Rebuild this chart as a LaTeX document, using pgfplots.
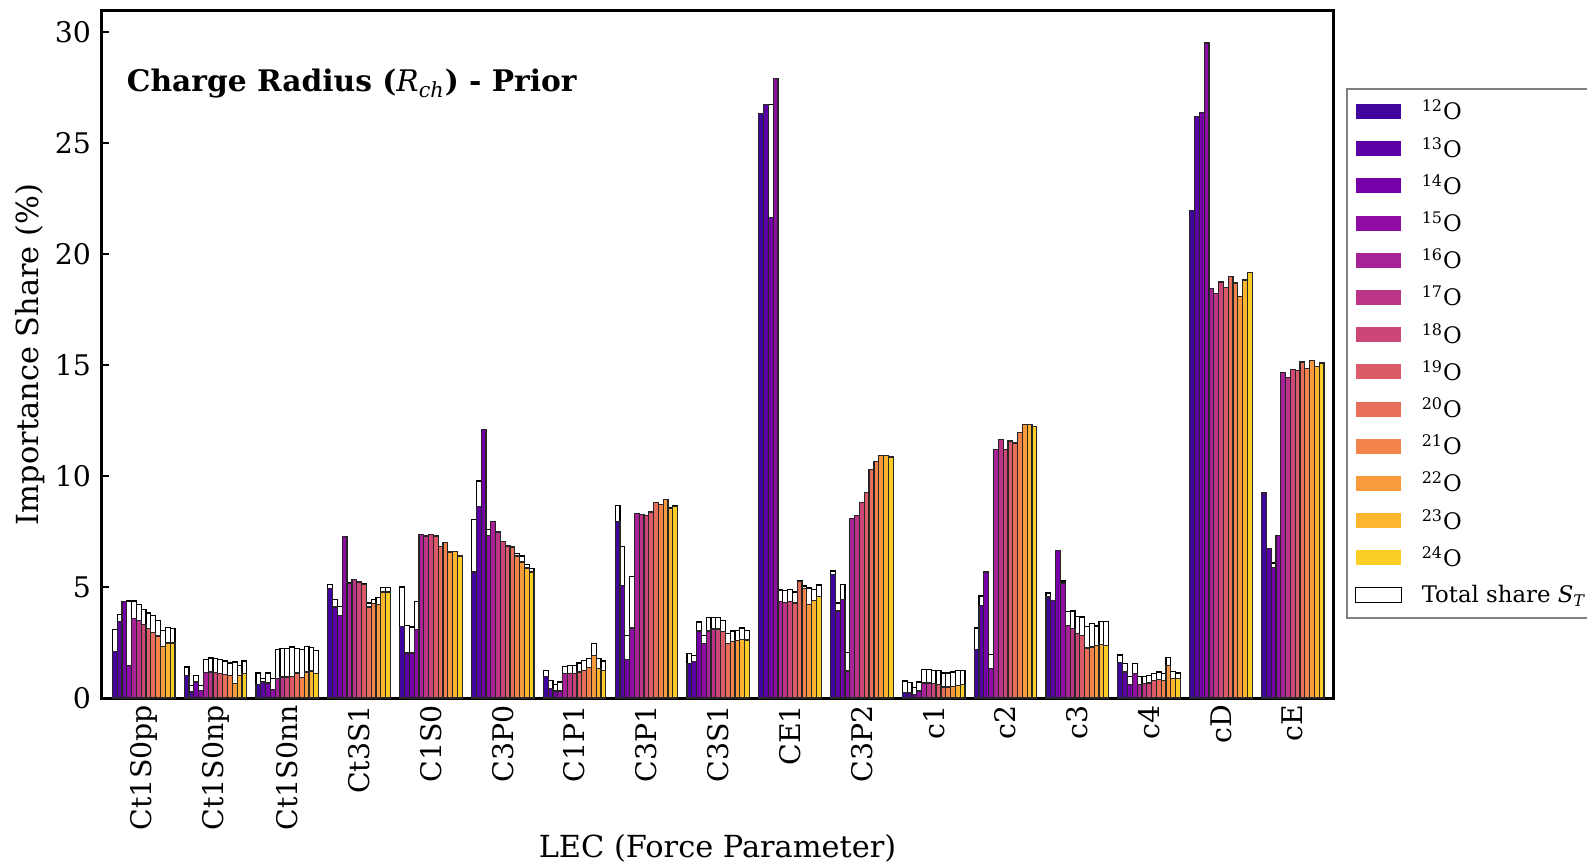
\documentclass[border=0pt]{standalone}
\usepackage{pgfplots}
\pgfplotsset{compat=1.18}
\usepackage{pgfplotstable}
\usepackage{fontspec}
\setmainfont{DejaVu Serif}
\usetikzlibrary{calc}

% plasma colormap, 13 samples between 0.1 and 0.9
\definecolor{p0}{HTML}{41049D}
\definecolor{p1}{HTML}{5C01A6}
\definecolor{p2}{HTML}{7701A8}
\definecolor{p3}{HTML}{8F0DA4}
\definecolor{p4}{HTML}{A72197}
\definecolor{p5}{HTML}{BB3488}
\definecolor{p6}{HTML}{CC4778}
\definecolor{p7}{HTML}{DB5C68}
\definecolor{p8}{HTML}{E76F5A}
\definecolor{p9}{HTML}{F2844B}
\definecolor{p10}{HTML}{F99B3D}
\definecolor{p11}{HTML}{FDB42F}
\definecolor{p12}{HTML}{FCCE25}

% first-order share (coloured bars), one column per isotope 12O..24O
\pgfplotstableread{
g c0 c1 c2 c3 c4 c5 c6 c7 c8 c9 c10 c11 c12
0  2.10 3.46 4.33 1.47 3.58 3.50 3.32 3.13 2.95 2.79 2.33 2.48 2.48
1  1.02 0.27 0.72 0.35 1.14 1.17 1.14 1.10 1.07 1.02 0.65 1.02 1.10
2  0.60 0.72 0.68 0.38 0.87 0.95 0.95 0.98 1.13 0.92 1.17 1.22 1.10
3  4.93 4.10 3.73 7.29 5.16 5.35 5.23 5.12 4.10 4.25 4.22 4.78 4.78
4  3.23 2.03 2.03 3.08 7.38 7.30 7.38 7.30 6.84 6.99 6.58 6.61 6.40
5  5.68 8.64 12.11 7.33 7.96 7.48 7.06 6.85 6.80 6.40 6.13 5.86 5.68
6  0.98 0.42 0.32 0.32 1.10 1.10 1.10 1.17 1.25 1.37 1.93 1.32 1.25
7  7.96 5.08 1.73 3.15 8.31 8.28 8.23 8.38 8.79 8.73 8.95 8.53 8.61
8  1.54 1.63 3.02 2.46 3.02 3.11 3.11 2.98 2.46 2.55 2.59 2.65 2.61
9  26.34 26.74 21.65 27.91 4.35 4.31 4.35 4.28 5.24 4.95 4.22 4.40 4.59
10 5.57 3.92 4.43 1.22 8.08 8.23 8.80 9.25 10.30 10.64 10.91 10.91 10.86
11 0.24 0.23 0.17 0.32 0.68 0.68 0.65 0.62 0.50 0.50 0.53 0.57 0.60
12 2.18 4.18 5.68 1.32 11.21 11.66 11.21 11.58 11.49 11.96 12.33 12.33 12.24
13 4.55 4.40 6.65 5.18 3.27 3.12 2.90 2.82 2.25 2.30 2.37 2.40 2.37
14 1.59 1.17 0.62 1.11 0.62 0.64 0.68 0.78 0.82 0.78 1.46 0.87 0.87
15 21.98 26.21 26.37 29.51 18.45 18.21 18.74 18.50 18.99 18.70 18.10 18.83 19.17
16 9.24 6.72 5.89 7.32 14.66 14.45 14.80 14.77 15.14 14.85 15.22 14.93 15.09
}\firsttab

% total share S_T (white bars)
\pgfplotstableread{
g c0 c1 c2 c3 c4 c5 c6 c7 c8 c9 c10 c11 c12
0  3.08 3.76 4.33 4.37 4.37 4.21 4.00 3.83 3.70 3.50 3.05 3.17 3.13
1  1.40 0.57 1.02 0.57 1.73 1.80 1.77 1.73 1.67 1.58 1.62 1.47 1.67
2  1.13 0.87 1.13 0.87 2.18 2.23 2.23 2.30 2.23 2.18 2.33 2.27 2.15
3  5.11 4.43 4.13 7.29 5.20 5.35 5.25 5.16 4.28 4.43 4.52 4.97 4.97
4  5.00 3.28 3.20 4.33 7.38 7.30 7.38 7.30 6.84 6.99 6.58 6.61 6.40
5  8.05 9.78 12.11 7.59 7.96 7.48 7.06 6.85 6.80 6.51 6.40 6.01 5.83
6  1.25 0.80 0.62 0.72 1.43 1.47 1.47 1.58 1.70 1.77 2.45 1.77 1.67
7  8.67 6.84 2.83 5.48 8.31 8.28 8.23 8.38 8.79 8.73 8.95 8.60 8.67
8  2.00 1.91 3.42 2.83 3.61 3.63 3.63 3.48 2.92 3.02 3.05 3.15 3.05
9  26.34 26.74 26.74 27.91 4.87 4.83 4.90 4.78 5.27 5.05 4.96 4.90 5.09
10 5.72 4.28 5.11 2.04 8.08 8.23 8.80 9.25 10.30 10.64 10.91 10.91 10.86
11 0.77 0.69 0.47 0.72 1.28 1.28 1.25 1.25 1.13 1.13 1.17 1.25 1.25
12 3.15 4.60 5.68 1.97 11.21 11.66 11.21 11.58 11.49 11.96 12.33 12.33 12.24
13 4.73 4.40 6.65 5.27 3.91 3.92 3.68 3.65 3.23 3.35 3.24 3.46 3.46
14 1.94 1.55 0.97 1.55 0.97 0.97 1.03 1.11 1.17 1.11 1.84 1.20 1.13
15 21.98 26.21 26.37 29.51 18.45 18.21 18.74 18.50 18.99 18.70 18.10 18.83 19.17
16 9.24 6.72 6.08 7.32 14.66 14.45 14.80 14.77 15.14 14.85 15.22 14.93 15.09
}\totaltab

\begin{document}
\begin{tikzpicture}
\begin{axis}[
  name=ax,
  scale only axis,
  width=615.5pt, height=343.5pt,
  xmin=-0.58, xmax=16.56,
  ymin=0, ymax=30.95,
  axis line style={line width=1.5pt},
  xtick={0,...,16},
  xticklabels={Ct1S0pp,Ct1S0np,Ct1S0nn,Ct3S1,C1S0,C3P0,C1P1,C3P1,C3S1,CE1,C3P2,c1,c2,c3,c4,cD,cE},
  x tick label style={rotate=90, anchor=east, font=\fontsize{14.2}{16}\selectfont},
  xtick style={draw=none},
  ytick={0,5,...,30},
  y tick label style={font=\fontsize{14.2}{16}\selectfont, xshift=-2pt},
  ytick style={line width=0.8pt, black},
  major tick length=3.5pt,
  tick align=inside,
  tick pos=left,
  /pgf/number format/assume math mode=true,
  legend image code/.code={\path[#1] (0pt,-3.75pt) rectangle (22.75pt,3.75pt);},
  legend cell align=left,
  legend style={at={(1.0106,0.888)}, anchor=north west, draw=gray, line width=1pt,
    fill=white, inner xsep=4pt, inner ysep=2pt, row sep=0pt,
    font=\fontsize{11.4}{13}\selectfont,
    nodes={inner sep=0pt, minimum height=18.6pt},
    /tikz/every odd column/.append style={column sep=10pt}},
]
\pgfplotsinvokeforeach{0,...,12}{
  \addplot[forget plot, ybar, bar width=0.067, bar shift={(#1-6)*0.067},
    fill=white, draw=black, line width=0.6pt] table[x=g, y=c#1] {\totaltab};
}
\pgfplotsinvokeforeach{0,...,12}{
  \addplot[forget plot, ybar, bar width=0.067, bar shift={(#1-6)*0.067},
    fill=p#1, draw=black!85, line width=0.6pt] table[x=g, y=c#1] {\firsttab};
}
\pgfplotsinvokeforeach{0,...,12}{
  \addlegendimage{fill=p#1, draw=none}
}
\addlegendentry{\textsuperscript{12}O}
\addlegendentry{\textsuperscript{13}O}
\addlegendentry{\textsuperscript{14}O}
\addlegendentry{\textsuperscript{15}O}
\addlegendentry{\textsuperscript{16}O}
\addlegendentry{\textsuperscript{17}O}
\addlegendentry{\textsuperscript{18}O}
\addlegendentry{\textsuperscript{19}O}
\addlegendentry{\textsuperscript{20}O}
\addlegendentry{\textsuperscript{21}O}
\addlegendentry{\textsuperscript{22}O}
\addlegendentry{\textsuperscript{23}O}
\addlegendentry{\textsuperscript{24}O}
\addlegendimage{fill=white, draw=black, line width=0.6pt}
\addlegendentry{Total share \textit{S}\textsubscript{\textit{T}}}
\node[anchor=base west, font=\bfseries\fontsize{14.85}{18}\selectfont]
  at (rel axis cs:0.0145,0.883) {Charge Radius ({\mdseries\itshape R\textsubscript{ch}}) - Prior};
\end{axis}
\node[rotate=90, font=\fontsize{15.2}{18}\selectfont] at ($(ax.west)+(-36pt,0)$) {Importance Share (\%)};
\node[font=\fontsize{15.2}{18}\selectfont] at ($(ax.south)+(0,-75pt)$) {LEC (Force Parameter)};
\pgfresetboundingbox
\path[use as bounding box] ($(ax.south west)+(-51pt,-83pt)$) rectangle ($(ax.north east)+(127pt,5.5pt)$);
\end{tikzpicture}
\end{document}
